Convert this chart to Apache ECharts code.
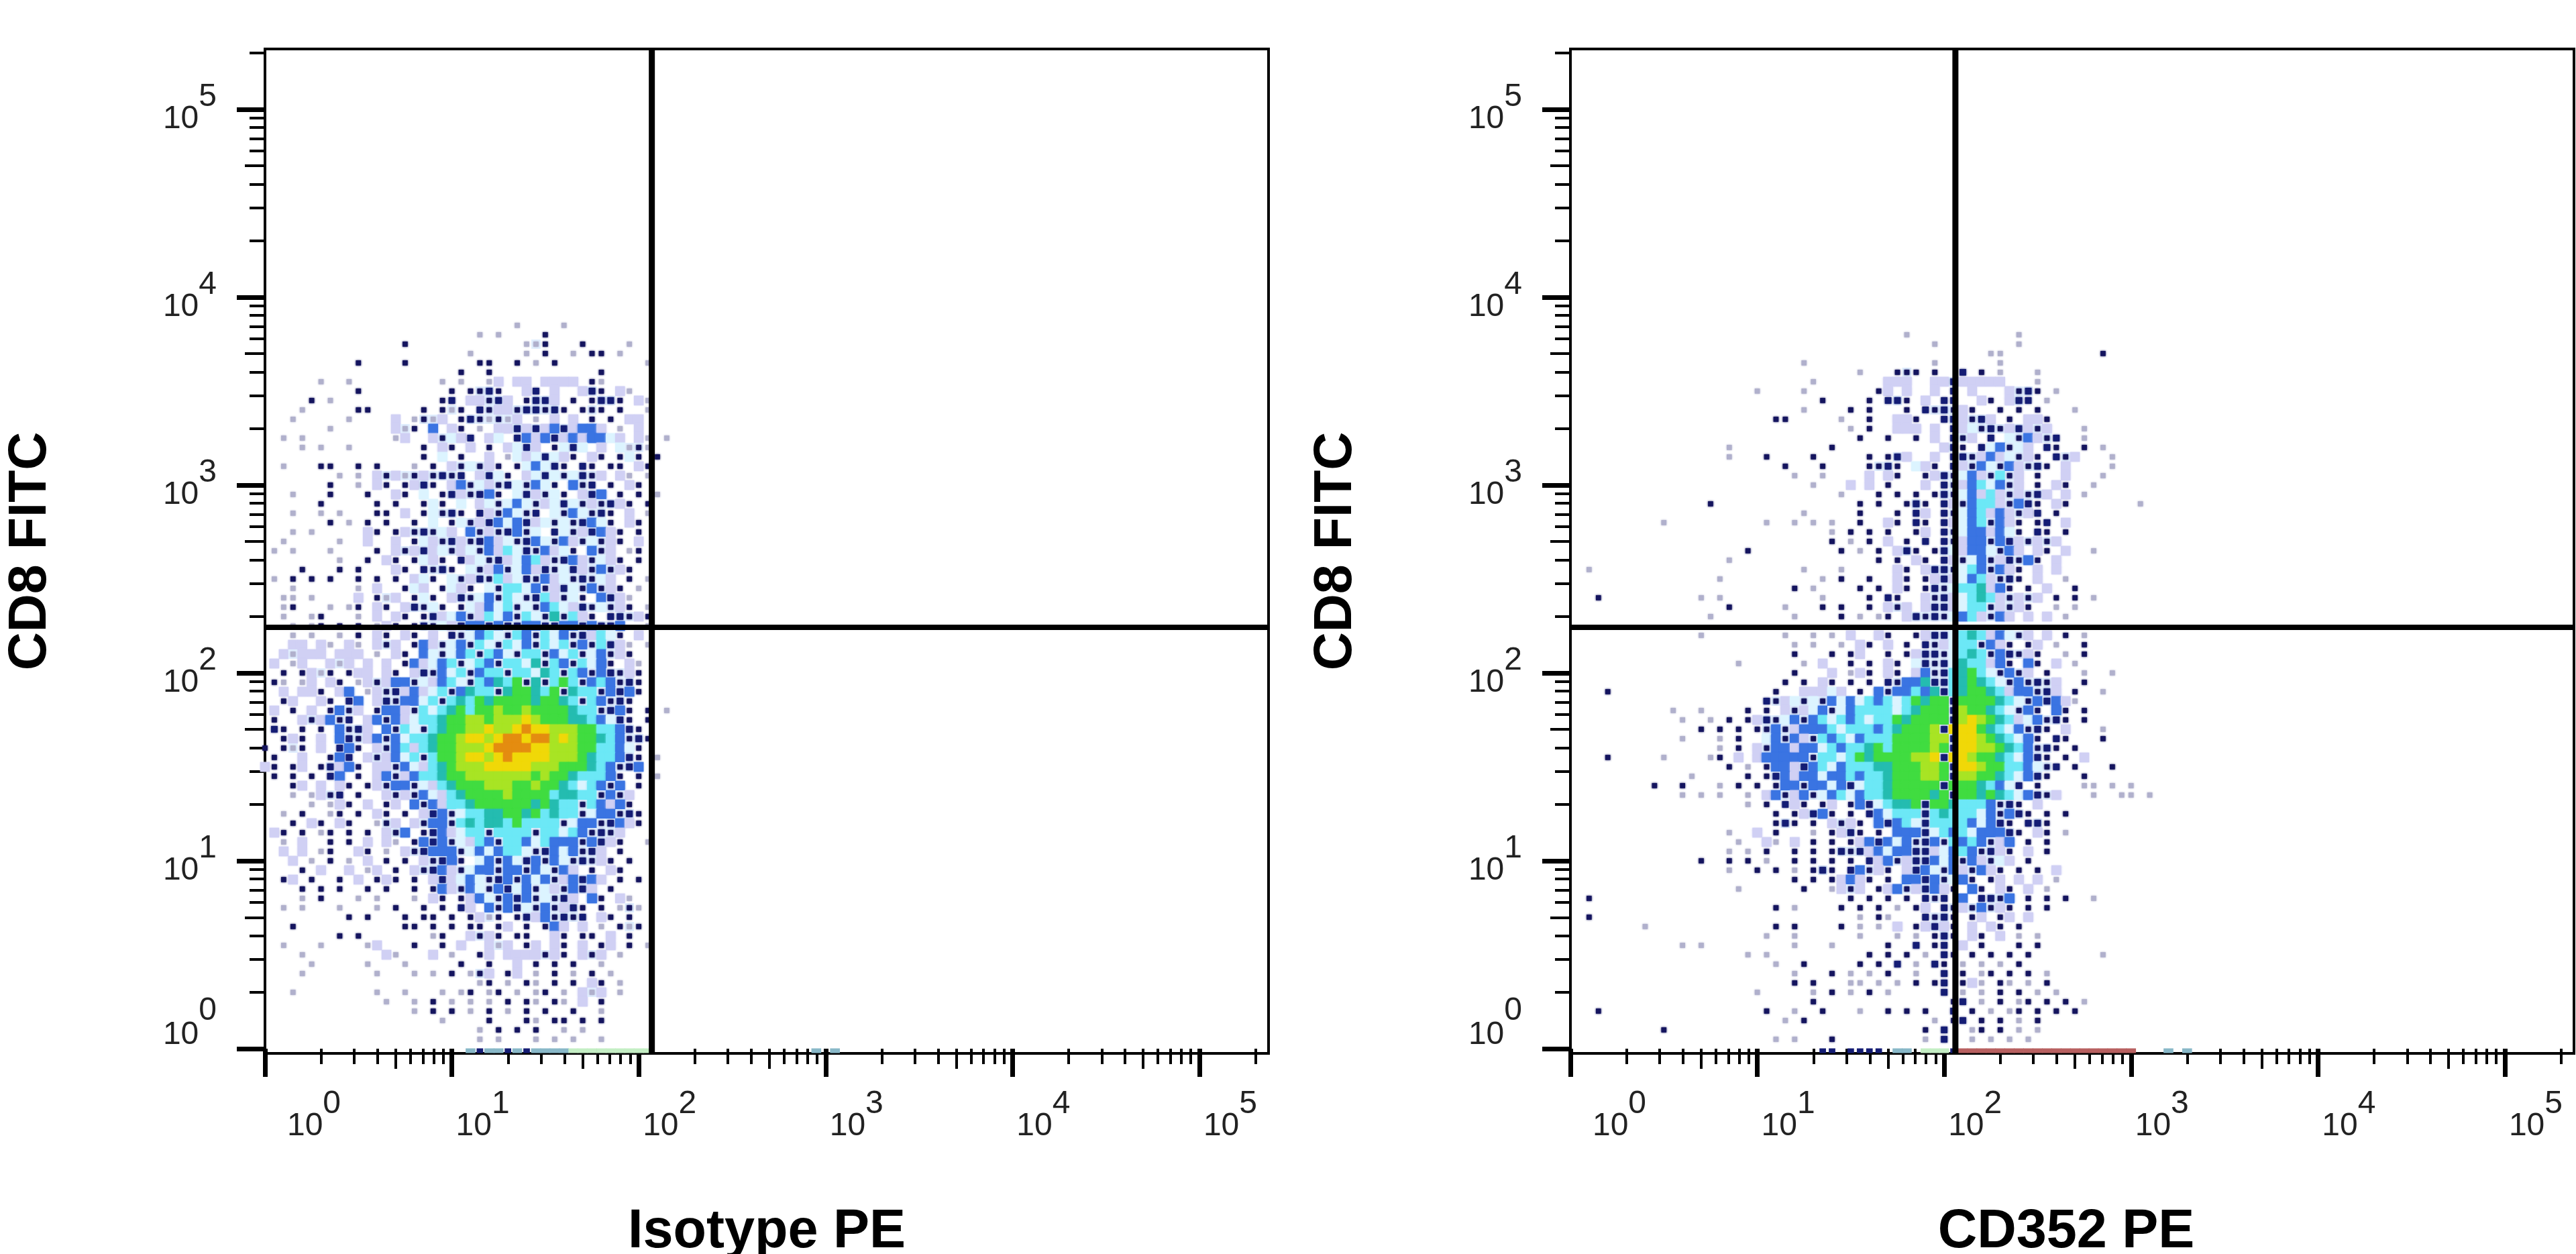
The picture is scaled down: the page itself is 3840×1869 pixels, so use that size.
<!DOCTYPE html>
<html><head><meta charset="utf-8">
<style>html,body{margin:0;padding:0;background:#fff}#c{width:3840px;height:1869px}</style>
<script src="https://cdn.jsdelivr.net/npm/echarts@6/dist/echarts.min.js"></script>
</head><body><div id="c"></div>
<script>
// Axes are in log10 units (decades); a tick at 2 is 10^2.
const majorTicks = [0,1,2,3,4,5];
const minorFactors = [2,3,4,6,7,8,9];
const midFactor = 5;
const xTitles = ['Isotype PE','CD352 PE'];
const yTitle = 'CD8 FITC';
const gateX = [2.07, 2.06];
const gateY = [2.243, 2.243];
// First row is log10(y)=3.85, each next row 0.05 lower; first column is log10(x)=0.
const binTopY = 3.85;
const binSize = 0.05;
const isotypeRows = [
"...........................-....-...........",
".......................-.-....*.............",
"...............*............--*...*....-....",
"......................-.....-.*..-.**.-.....",
"..........*....*.......**..*.-.*.........-..",
".....................*..*...........*.......",
"......-..-.........-.-..-+.++.++++.*-.......",
"..........*.........*.**n*..+n.+..+n*.+-....",
".....*.-...........*n.++*n+.*nn+.*.*nn*.+-..",
"....-.....**.....*.*-*.n*++*nn*n*.***.*..-..",
"...-.....-....+.-*-+.*n*-*-+.-.+.+.*.*.++...",
".......-......+-*.b.+*.-.++n+n+bn+bb+.-.+...",
"..-.-.........-+..+*w+n.+w.nb+bn+b+bbw+.+-.-",
"....-.-..-.......*.+*.+.*.+wn+.*wnw.+.w-*-..",
".................*.w.*..+.-w+wnw+*.+*.*w*.*.",
"..-...**..*.*...-.*.+*w*+*.*wbwn*.n*.**.+*..",
"........-.-.+*+-*+*n*n.+nw*.+wnw*wn*+.+-.-..",
".......*..-.+*.*+n*.+b*w+*nw*bw*.b*n.*.+*...",
"...-...*...*..+*.w.*n+*nb*.wn+*w*.+nb.*.*.-.",
"......*.....*.*..*w*.w.+w*wbw*+wnw*+*n+*.*..",
"...-..-.-...**.+.*w*n*.n+*bw*n.w*bw*n*.+.-..",
".......*.-.*.*..*.w.*w*+nbwbn+w*w*nbw*.+*...",
"...-.-.....+*.*+*n*w+.b*+*nb*w.nw*+nb+*.*...",
"..-.....-..+..+.*w+*n+*nb+w*nbw*b+*w*+*.+...",
".-.-...-....*.+*+n+w*+w*b+cwn*b+w*.b*+.-*...",
"........-..*.+*.*w+*.n+w*n+wbc+*nb+*w+*.*...",
"....*...*.*...+*.n*n*.w*+b*wb+n*wn+*b*+*.....",
".-.*.*.*..*.*.*.+w*.w*+n*c+wn*b+w*n*w+.*.-..",
"...-......-.+..*w+.*w+*.w*ccwb*+nw*b*+*.-...",
"..--.-....+.*-+.*w*.+n*wb*cw*nc+*w*.bn+-....",
"..-*...-.-*.+*.+n*w*.*w+bwc*w*bcw+n*w*+*.-..",
"..-..-*...-.+.+*.*n+wb*+cwb*cw*t*c+*.nn*+*..",
"...-.-*.*.*.-+*.*n*w+nbbnbnnbbnnbbnbnnb..-..",
"...-.-..-.*.+*.+*.+.n*wbcw*cb*cwb*n+cw*.+...",
"...++.+-.+-.+*+.*b+*wb*cw*cwb*cwc*b*cn+-.-..",
"..+-+++.+++.-.+*.bw*wbc*cbw*cc*bwc*wb*+*....",
".+.-+..+-+.+.+.*b+wbc*wcb*ccwt*cb*cwb*.+-...",
"..*.*+-*.*++.+*.+n*bwc*bcc*ccwtc*cb*bn*+*...",
".*-.-+.+*.-+*+bb*w+bcw*cbtcg*t*cgc*bcb*n*...",
"..+.++*.+b.-+*n+b+wc*btcc*tggtcg*tcc*bnb*...",
"..*+..+*.nb.+n*bbwc*ctcgtggggtggtc*cb*n*....",
".+.*.+.*b*+.*bb+*cwctgcgglgglggggtcc*nb*.*.-",
".*..+*+b*n.+b*b+wcctggllglllylgggttcbwn*.*..",
".n*.*.*.b*n+.b*cw*ctggllyllyoyylllggccbn*...",
"..*+*.+.bn*+b*bwcctgglyylyooyoolylggtcb*n*..",
"*.*-*.+.nb*.+*bc+ctgglllyooooyylllggccbw*...",
".*..+..*bn.+*+bwc*cgglyylyoyyyylllgtccbn*.-.",
"+*.*+.*n+b*.++*bw+ctglllyyyyylllgggtcb*nb...",
".*.*.*.nb.*.+b*+bcctgglllllllglggtcccb*.*.-.",
"...*+.+.+*.*+*bb*w+ctggglllgglggtcwcb*b.*...",
"...-.-+*n.*..+*+*bw+ctgggglggggcttcc*b*+....",
".....-.-+*.+.*+.b*b+cctggggggtgtcc*cb+b*....",
"..-.*..-*.*.+*.*.+nb*wccttggtgctcc*wbb*n*...",
"...*.+*.+*..-*+.+*bb*ctcttcgcccc*wbb*nb+*...",
".+*.*.-*.*.*.+*b.*nb+wcc*cccc*ccwcb*n*+.....",
"..-.+..*.*.+.+-.*bnb*w+cb*ccbwcbbb*bn+*..-..",
"..+.+.-*..+*.-.+*nbbb*wbwbccw*nbwb*n+.*.....",
"...+.-.*.-.+.*.*.+*nb*.wb*bwnb*bw*n*+*.*....",
"....*.+..+.-+.*.+*nb+*wbb*bb*bw*b+.*.+*.....",
"..*+.*..*.+.*+*.*.+n+wbw*nb*bwb*+bnb+.*.*...",
"....*.*.*..*.*..*.*b+*bw*bnwb*w+*bn+.*......",
"....-.*...-.-...-.+*.*+bw*bnb*w*n+.b*.+-....",
"..-.-...-...-.*..*.*.n+.b*bnw*b*+n*.*.-*-...",
".........*.*...*.**.*.*+-*.*n+b*n*n.+*.*....",
"...*...........**.*.*.**.*+.*.*b+.+.-.*-*...",
"........*.*.......-*..+*+*.**..+*.**.+.*....",
"..-...-....-+...*..*.+..+-+.*+.+*.+.*+.*.-..",
"....-........+-...+.-..*+.++++*+*.+*+.-.....",
".....-.....-...-.....*..*..+.*.*.*..-.......",
"....-.......-...-.-.*.-*+.*+.-.*.-.*.-......",
".......................-*.-.*-.*.*.+*.-.....",
"...-........-..-...-.-*.-*.-.-*.-.+-+.-.....",
".............-..-.*.-.-.-.*.*-.*-.+.*.......",
"................-.*.*.-.*.-.*.*..*..-.......",
"...................-....*...*-.**.*.*.......",
".......................-.*.*.*..-.-.........",
".......................-.-...-.-.-..-.......",
"......................qnqqnqnqqqqeeeeeeeee.................q.q"
];
const cd352Rows = [
"..............................................................",
"....................................-...........-.............",
".......................................-........-.............",
".............................................--..........*....",
".........................-.............-......-...............",
"...............................-...***.*..n.*.-...-............",
"..........................-.......+++..++n+++++...-............",
"....................-....-.......*+.+..+.n.+...+*n*.-..........",
"...........................*....*.nn*.+.nn..+*.+nn.-...........",
".........................-....*.*...*.n*n*+*..*.*.*...-.........",
"......................**.....-..*..++*..nn+*n+.*.++*...........",
"..............................-.*..+++.+.n+w*n*+n+*+...-........",
"...............................*..*..*.+.n*+.n.w*b+*n..-........",
".................-..........*...........+n*.nwb*w+.n*..*.-.......",
".................-...*....*.....*.*n+..+.nn*+b+w*+*.n*+...-.......",
".......................*...*....**n*.w+*.n+*bw*b+*n*.+....-......",
"........................-..-....+.+*..*+n*wb+*c*+.*..+...-.......",
"..........................-...+.+.*...+.n*+bcwb*+.*.+*..-.......",
".............................-...*.*.*.*n*wb+c+*+*n+.+.-.........",
"...............*...............*.*..*n*.n+*bcc+*bn*.+*.......-...",
".........................-.....*...*.n+.n*wbc+b+*+n.*.............",
"..........-..........-..-.-.-..*..+*.n*.n+wbc*b+*.*n.+............",
"............................-.*.*.*..*+.n*wbb+bw*.n*.*...........",
"............................*.-.*.+.*.n.n*+bb*bn+*+*+.............",
"...................*.........*.-.*.+n*.*nw+bbw*b+.+*.+..-........",
".................-...............*.*.+*.n+*wb*+n*b*.+.............",
"..-......................-...-.....+*.+nn*wcb*b+*.+.+............",
"................-..........-.*..*..+*.*+n+wbc+*n*.+..-............",
"........................*.-....*.*.+*.*n*wcct+b*.*.+..*.........",
"...*..........-.-..........-....*.n*..+*n+wctc+*+*+.*.*.-........",
".................*.....-...*.*..*.+*+.+nn+wcc*+*+*..-.-.........",
"...............-........-....*.-.-*.+n*n*wbc+*b+.+.+.-.........",
"................................................................",
"..............-........-..-.-.+..+*..*+nnwctc+bw*+.+.*.-........",
"........................-.-..-.+*.+.*.n*+wcc*b+*.*+.-..*.........",
"........................*...*.*+..*.*+nn*wctc*bn*+*..-.*.........",
"..................-......-.+..*.*.+*.wn*nwtcc+b*.b*.+.-..........",
"........................*...+.-+*.+*.+b*nctgcw*b*+.*...-..-.......",
".......................*.*.+*.*.*.n*bbtnnctgtcw*b*n*+..*.........",
"....*.................*..+++w+.*.b*bbcbtnctggtc+bb*n+.*..-.......",
".....................n*+w*w*bwbwcbcwcgtggnggggtcw*bnb+-...........",
"...........-..-....*.*.+*+wb*wbccccwctgggnlggtcw*b*.b*.*..........",
"............-..-.*.*+n*wb*bcwcbcwccgtggggnlylgtc+wb*n*.*...........",
"..............*.*.*.**b*+bbbcwcccbctggglnyyygtcwb*n*.+...-.........",
"............-...-.*..wb*b+*cbcwbcccggggllnyylgtcwb*.n*...*..........",
"................-.*.+*bb+bbwcbcctgcgggglgnyyllgtcb*n*.*.............",
"....*.....-....-*.+.+bbbbb*ccwcgtggggllynyylggtcwbn*.*.+...........",
".................*.-.*bb+nbcwbcccttgggllgnyylggccbw*n.*...*.........",
".............-.....*.*nb+bbwbbcbcctgggllgnllggtcwbn*...*..............",
".........*..*...-.*.*.*bb*bbwbnwcctgggggngggtcbwn.*....--.-.-........",
"............-.-.-..-.+b*+b*wbcwbcctggggtgnggtgtcwbn*+...-..--.-........",
"...................-.*.n+*.*+.*bnwcttgnggtcccb*n*.+.................",
"......................*.*+nb*.*.nbwcccnctcccwb*bn*.*.*.............",
"......................*n*.*.+*+*.bnbcwnccccbwbn*.nn*...............",
".................-..+.*...-.*+n*.*.bbbnwcbcwbbbn*.+*.-.............",
"..................-..+-.+.*.*.*+bnbwb*nb*cbcb*+b.*.*..............",
".................-.-.*..*.*.*n*n+bwbbnn+wbcb*n+*.+.*..............",
"..............*..*.*.-..*.*.*.*.n+b*+nnbwb*b+*w+.*.................",
".................-..*.*.-.*n*.nb*+*.+nbw*b+*b+*.*.*.+..............",
"........................*.*.*+b+*.*.bbnb*wb*.*+.+.+.-..............",
"..................-......*..-+*+.*+b*+nb+*.b*.+*.+.-...............",
"..*...........................*.*.*.*.n*n.b.nn*b.*.*.*..-..........",
"......................*.-....*.*.*.-.*+.n*+*b*+*.*.*................",
"..*............................-.*-...n*n*.*+.*+.+.................",
"........-.............*.*....*.-.-.+.*+n+*.+.+*.*..................",
".....................-..-......-...-.-.*n*.+*.+.-.-................",
"............-.-.........-...-.....*..n.*n.+.*...*.*.................",
"...................-.-..........*.*.*.-.n*.*.*.*.*.......-.........",
"......................-..*.....*.*.n.-.n*.-.-.-.*....................",
"........................-...*.-.-.*..-..n.*.-*.*.*.-..................",
"........................*.*...--.-.-.*.*n.*+-.*-.-.*...................",
"....................-.....-.*.-.*.-.....n.-.-.*.*.-.-................",
"..........................*..............*n.-.*.-*.*.*.-..............",
"...*.................*..-..*...-..*.*.*..n.*.-.-*.*.*.*...............",
".......................-.*.............-.*n.*.*.-.*...................",
"..........*...........................*.n..-*.*.-.-...................",
"......................-.-...*.........-.n..-.-.-.-....................",
"...........................nn.nnnn.qq.eeenrrrrrrrrrrrrrrrrrrr...q.q"
];
const binColors = {'-':'#b0b0cc','*':'#14145e','+':'#d0d0f4','n':'#141c74','b':'#3a74e2','w':'#dcf4ff',
  'c':'#6ce8f6','t':'#24bcb0','g':'#40dc40','l':'#a8e424','y':'#f0d808','o':'#e48c10',
  'q':'#88b8c8','e':'#c4eec4','r':'#b86060'};
const dotKeys='*-n';
const filled=(rows,r,c)=>{const row=rows[r];return !!row&&c>=0&&c<row.length&&row[c]!=='.';};

function binsOf(rows){
  const out=[];
  rows.forEach((row,r)=>{
    for(let c=0;c<row.length;c++){
      if(row[c]==='.') continue;
      const band=r===rows.length-1?1:0;
      const inner=(filled(rows,r,c-1)&&filled(rows,r,c+1))?1:0;
      out.push([c*binSize, binTopY-r*binSize, row[c], band, inner]);
    }
  });
  return out;
}
const log10=Math.log10;
const minorVals=[],midVals=[];
for(let d=0;d<=5;d++){
  minorFactors.forEach(f=>{const v=d+log10(f); if(v<5.37) minorVals.push(v);});
  if(d<5) midVals.push(d+log10(midFactor));
}
minorVals.push(5+log10(2));
const xRange=[0,5.37], yRange=[-0.025,5.321];
const grids=[{left:395,top:73,width:1496,height:1497},{left:2341,top:73,width:1496,height:1497}];
const labelFont={fontFamily:'Liberation Sans',fontSize:48,color:'#222'};
const xRich={a:{...labelFont,padding:[30,0,0,92]},b:{...labelFont,padding:[0,0,36,0]},
             a0:{...labelFont,padding:[30,0,0,146]}};
const yRich={a:{...labelFont,padding:[30,0,0,0]},b:{...labelFont,padding:[0,0,36,0]},
             a0:{...labelFont,padding:[0,0,40,0]},b0:{...labelFont,padding:[0,0,112,0]}};
const xAxes=[],yAxes=[],series=[];
function tick(vals,len,w){return {show:true,customValues:vals,length:len,inside:false,lineStyle:{color:'#000',width:w}};}
[0,1].forEach(p=>{
  const ix=xAxes.length, iy=yAxes.length;
  const bx={type:'value',gridIndex:p,min:xRange[0],max:xRange[1],position:'bottom',splitLine:{show:false},axisLine:{show:false}};
  const by={type:'value',gridIndex:p,min:yRange[0],max:yRange[1],position:'left',splitLine:{show:false},axisLine:{show:false}};
  xAxes.push({...bx,name:xTitles[p],nameLocation:'middle',nameGap:226,
    nameTextStyle:{fontFamily:'Liberation Sans',fontWeight:'bold',fontSize:81,color:'#000',padding:p===1?[0,18,0,0]:0},
    axisTick:tick(majorTicks,42,7),
    axisLabel:{show:true,customValues:majorTicks,margin:52,hideOverlap:false,rich:xRich,
      formatter:v=>`{${v===0?'a0':'a'}|10}{b|${v}}`}});
  xAxes.push({...bx,axisTick:tick(minorVals,23,4),axisLabel:{show:false}});
  xAxes.push({...bx,axisTick:tick(midVals,30,4),axisLabel:{show:false}});
  yAxes.push({...by,name:yTitle,nameLocation:'middle',nameGap:309,nameRotate:90,
    nameTextStyle:{fontFamily:'Liberation Sans',fontWeight:'bold',fontSize:79,color:'#000'},
    axisTick:tick(majorTicks,42,7),
    axisLabel:{show:true,customValues:majorTicks,margin:72,hideOverlap:false,rich:yRich,
      formatter:v=>v===0?`{a0|10}{b0|${v}}`:`{a|10}{b|${v}}`}});
  yAxes.push({...by,axisTick:tick(minorVals,23,4),axisLabel:{show:false}});
  yAxes.push({...by,axisTick:tick(midVals,30,4),axisLabel:{show:false}});
  series.push({type:'custom',xAxisIndex:ix,yAxisIndex:iy,silent:true,animation:false,progressive:0,z:2,
    data:binsOf(p===0?isotypeRows:cd352Rows),
    renderItem:(params,api)=>{
      const x=api.value(0),y=api.value(1),k=api.value(2),band=api.value(3),inner=api.value(4);
      const pt=api.coord([x,y]);
      const sz=api.size([binSize,binSize]);
      const dot=dotKeys.indexOf(k)>=0;
      const scale=dot?(k==='n'?0.7:0.55):1.05;
      const w=sz[0]*scale;
      let h=sz[1]*scale, cy=pt[1];
      if(band){h=7;cy=pt[1]+3;}
      const mark={type:'rect',shape:{x:pt[0]-w/2,y:cy-h/2,width:w,height:h},
        style:{fill:binColors[k],shadowBlur:band?0:3,shadowColor:binColors[k]}};
      if(dot&&inner&&!band){
        return {type:'group',children:[
          {type:'rect',shape:{x:pt[0]-sz[0]/2,y:pt[1]-sz[1]/2,width:sz[0],height:sz[1]},style:{fill:'#e2f0ff'}},mark]};
      }
      return mark;
    },
    dimensions:[{name:'x',type:'number'},{name:'y',type:'number'},{name:'k',type:'ordinal'},{name:'band',type:'number'},{name:'inner',type:'number'}],
    encode:{x:0,y:1}});
  series.push({type:'line',xAxisIndex:ix,yAxisIndex:iy,silent:true,animation:false,showSymbol:false,z:5,
    lineStyle:{color:'#000',width:9},data:[[gateX[p],yRange[0]],[gateX[p],yRange[1]]]});
  series.push({type:'line',xAxisIndex:ix,yAxisIndex:iy,silent:true,animation:false,showSymbol:false,z:5,
    lineStyle:{color:'#000',width:8},data:[[xRange[0],gateY[p]],[xRange[1],gateY[p]]]});
});
const chart=echarts.init(document.getElementById('c'),null,{renderer:'canvas'});
chart.setOption({animation:false,backgroundColor:'#fff',
  grid:grids.map(g=>({...g,show:true,borderColor:'#000',borderWidth:4,backgroundColor:'transparent',containLabel:false,outerBoundsMode:'none'})),
  xAxis:xAxes,yAxis:yAxes,series});
</script></body></html>
